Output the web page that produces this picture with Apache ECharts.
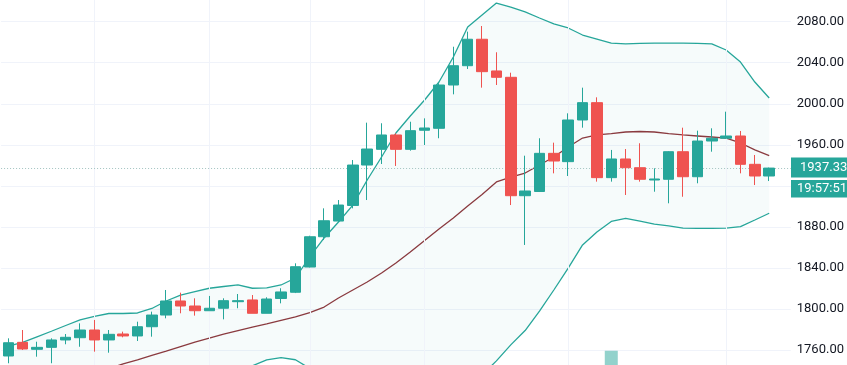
<!DOCTYPE html>
<html><head><meta charset="utf-8">
<script src="https://cdn.jsdelivr.net/npm/echarts@6/dist/echarts.min.js"></script>
<style>html,body{margin:0;padding:0;background:#fff;overflow:hidden}#c{width:847px;height:365px}</style>
</head><body><div id="c"></div>
<script>
// Daily candles (XAUUSD-like), last slot is empty right offset
const categories = ['2020-06-23','2020-06-24','2020-06-25','2020-06-26','2020-06-29','2020-06-30','2020-07-01','2020-07-02','2020-07-03','2020-07-06','2020-07-07','2020-07-08','2020-07-09','2020-07-10','2020-07-13','2020-07-14','2020-07-15','2020-07-16','2020-07-17','2020-07-20','2020-07-21','2020-07-22','2020-07-23','2020-07-24','2020-07-27','2020-07-28','2020-07-29','2020-07-30','2020-07-31','2020-08-03','2020-08-04','2020-08-05','2020-08-06','2020-08-07','2020-08-10','2020-08-11','2020-08-12','2020-08-13','2020-08-14','2020-08-17','2020-08-18','2020-08-19','2020-08-20','2020-08-21','2020-08-24','2020-08-25','2020-08-26','2020-08-27','2020-08-28','2020-08-31','2020-09-01','2020-09-02','2020-09-03','2020-09-04','2020-09-07'];
const opens  = [1754.2,1767.5,1760.7,1762.6,1769.8,1772.0,1779.5,1769.8,1775.6,1773.7,1782.7,1794.1,1807.8,1802.9,1798.3,1800.7,1807.1,1808.8,1795.8,1810.2,1816.3,1840.9,1870.4,1885.7,1900.9,1940.3,1955.6,1969.6,1955.6,1974.2,1976.1,2018.3,2037.1,2062.9,2032.0,2025.8,1910.4,1914.5,1951.7,1943.6,1984.2,2001.1,1928.0,1946.2,1937.7,1925.7,1926.4,1953.3,1928.9,1963.7,1966.4,1968.6,1941.0,1929.6];
const closes = [1767.1,1761.0,1762.6,1769.8,1772.4,1779.5,1769.8,1775.3,1773.7,1782.7,1794.1,1807.8,1802.9,1798.3,1800.7,1808.1,1808.1,1795.8,1809.7,1816.6,1841.2,1870.4,1886.0,1901.3,1940.3,1955.9,1969.6,1955.6,1973.8,1976.4,2018.3,2037.1,2062.9,2031.3,2025.8,1910.4,1915.0,1951.7,1944.2,1984.2,2001.1,1928.0,1946.2,1937.7,1926.4,1926.7,1953.3,1928.9,1963.7,1966.4,1968.6,1941.0,1929.6,1937.33];
const lows   = [1747.1,1760.0,1753.5,1747.1,1765.6,1763.2,1758.4,1757.4,1772.4,1768.8,1773.0,1790.9,1795.8,1793.5,1798.3,1789.9,1800.7,1795.8,1795.8,1805.5,1815.5,1840.5,1867.2,1884.8,1898.1,1906.2,1941.3,1939.4,1954.3,1959.8,1966.4,2009.2,2033.9,2015.7,2018.3,1901.3,1862.4,1914.0,1932.2,1929.6,1976.7,1924.1,1924.1,1911.1,1924.1,1914.3,1903.0,1909.4,1922.5,1953.3,1966.0,1932.2,1920.8,1924.7];
const highs  = [1771.4,1779.5,1768.1,1771.4,1775.6,1786.0,1789.3,1779.5,1777.9,1787.6,1797.4,1818.5,1815.9,1810.4,1812.7,1810.4,1814.6,1813.6,1811.4,1820.2,1844.5,1871.4,1898.1,1906.2,1945.2,1981.6,1981.0,1971.2,1982.5,1985.8,2020.0,2055.6,2070.3,2075.8,2050.2,2030.3,1949.4,1966.4,1962.1,1990.7,2015.7,2006.3,1955.0,1955.9,1961.5,1937.1,1953.8,1976.7,1973.8,1976.1,1992.3,1973.5,1950.1,1937.8];
// Bollinger bands (20, 2)
const bbUpper  = [1763.9,1767.5,1772.9,1778.3,1783.9,1789.3,1792.7,1795.6,1795.6,1796.1,1800.5,1807.8,1813.6,1817.0,1820.2,1821.9,1823.4,1820.2,1820.5,1823.4,1830.2,1850.7,1869.2,1884.8,1901.3,1925.7,1948.1,1971.5,1988.1,2003.7,2021.2,2045.6,2074.8,2086.5,2098.2,2094.3,2089.5,2083.6,2077.8,2073.9,2067.0,2063.1,2059.2,2058.3,2058.8,2059.2,2059.2,2059.2,2058.8,2058.3,2052.4,2040.7,2021.2,2005.6];
const bbMiddle = [1711.3,1715.7,1720.1,1724.4,1728.8,1733.2,1737.6,1742.0,1746.4,1750.3,1754.7,1759.0,1763.4,1767.8,1771.7,1775.6,1779.0,1782.4,1785.4,1788.8,1792.2,1796.4,1801.9,1810.7,1818.5,1826.3,1835.1,1844.8,1855.5,1866.7,1878.0,1888.7,1900.4,1911.6,1923.8,1928.6,1932.5,1940.3,1948.1,1957.9,1966.6,1969.6,1971.0,1972.5,1973.0,1972.5,1971.0,1969.6,1968.6,1967.6,1966.6,1961.8,1955.0,1949.4];
const bbLower  = [1658.7,1663.9,1667.3,1670.5,1673.7,1677.1,1682.5,1688.4,1697.2,1704.5,1708.9,1710.2,1713.2,1718.6,1723.2,1729.3,1734.6,1744.6,1750.3,1752.5,1750.5,1742.1,1734.6,1736.6,1735.7,1726.9,1722.1,1718.1,1722.9,1729.7,1734.8,1731.8,1726.0,1735.7,1749.4,1765.0,1779.0,1798.0,1818.5,1839.9,1862.4,1875.0,1885.3,1888.4,1885.7,1882.8,1880.9,1878.9,1878.6,1878.6,1878.9,1880.2,1886.7,1893.3];
const volumes  = [null,null,null,null,null,null,null,null,null,null,null,null,null,null,null,null,null,null,null,null,null,null,null,null,null,null,null,null,null,null,null,null,null,null,null,null,null,null,null,null,null,null,3.9,null,null,null,null,null,null,null,null,null,null,null];
const timeGridIdx = [6, 14, 21, 29, 39, 50];
const priceTicks = [1760, 1800, 1840, 1880, 1920, 1960, 2000, 2040, 2080];
const yMin = 1745.4, yMax = 2101.15;
const lastPrice = 1937.33;
const countdown = '19:57:51';

const UP = '#26a69a', DOWN = '#ef5350', BAND = '#26a69a', BASIS = '#8a3a3f';
const FONT = 'Roboto';

const chart = echarts.init(document.getElementById('c'), null, {renderer: 'canvas'});
const candleData = opens.map((o, i) => [o, closes[i], lows[i], highs[i]]);
const bandWidth = bbUpper.map((u, i) => +(u - bbLower[i]).toFixed(2));

chart.setOption({
  animation: false,
  backgroundColor: '#ffffff',
  grid: {left: 1.09, top: 0, width: 792.83, height: 365, containLabel: false},
  xAxis: {
    type: 'category', data: categories, boundaryGap: true,
    axisLine: {show: false}, axisTick: {show: false}, axisLabel: {show: false}, splitLine: {show: false}
  },
  yAxis: [{
    type: 'value', position: 'right', min: yMin, max: yMax,
    axisLine: {show: false},
    axisTick: {show: false, customValues: priceTicks},
    axisLabel: {margin: 6, color: '#131722', fontFamily: FONT, fontSize: 13, customValues: priceTicks, formatter: v => v.toFixed(2)},
    splitLine: {lineStyle: {color: '#f0f3fa', width: 1}}
  }, {
    type: 'value', min: 0, max: 100, show: false, splitLine: {show: false}
  }],
  series: [
    {
      name: 'lower', type: 'line', data: bbLower, stack: 'bb', symbol: 'none', z: 1,
      lineStyle: {color: BAND, width: 1.3}, silent: true,
      markLine: {
        silent: true, symbol: ['none', 'none'], label: {show: false},
        lineStyle: {color: '#f0f3fa', type: 'solid', width: 1},
        data: timeGridIdx.map(i => ({xAxis: i}))
      }
    },
    {
      name: 'upper', type: 'line', data: bandWidth, stack: 'bb', symbol: 'none', z: 1,
      lineStyle: {color: BAND, width: 1.3}, silent: true,
      areaStyle: {color: 'rgba(38,166,154,0.06)'}
    },
    {
      name: 'volume', type: 'bar', yAxisIndex: 1, data: volumes, barWidth: 13, z: 2,
      itemStyle: {color: 'rgba(38,166,154,0.5)'}, silent: true
    },
    {
      name: 'basis', type: 'line', data: bbMiddle, symbol: 'none', z: 3,
      lineStyle: {color: BASIS, width: 1.3}, silent: true
    },
    {
      name: 'price', type: 'candlestick', data: candleData, barWidth: 11, z: 5,
      itemStyle: {color: UP, color0: DOWN, borderColor: UP, borderColor0: DOWN, borderWidth: 1},
      markLine: {
        silent: true, symbol: ['none', 'none'], label: {show: false},
        lineStyle: {color: '#a3c4c1', type: [1, 2], width: 1},
        data: [{yAxis: lastPrice}]
      }
    }
  ]
});

const py = chart.convertToPixel({yAxisIndex: 0}, lastPrice);
chart.setOption({
  graphic: [
    {type: 'rect', shape: {x: 791, y: py - 10.5, width: 56, height: 20}, style: {fill: UP}, z: 10},
    {type: 'text', x: 800, y: py, style: {text: lastPrice.toFixed(2), fill: '#ffffff', font: '13px ' + FONT, textVerticalAlign: 'middle'}, z: 11},
    {type: 'rect', shape: {x: 791, y: py + 12, width: 56, height: 17.5}, style: {fill: UP}, z: 10},
    {type: 'text', x: 797, y: py + 21, style: {text: countdown, fill: '#ffffff', font: '13px ' + FONT, textVerticalAlign: 'middle'}, z: 11}
  ]
});
</script>
</body></html>
